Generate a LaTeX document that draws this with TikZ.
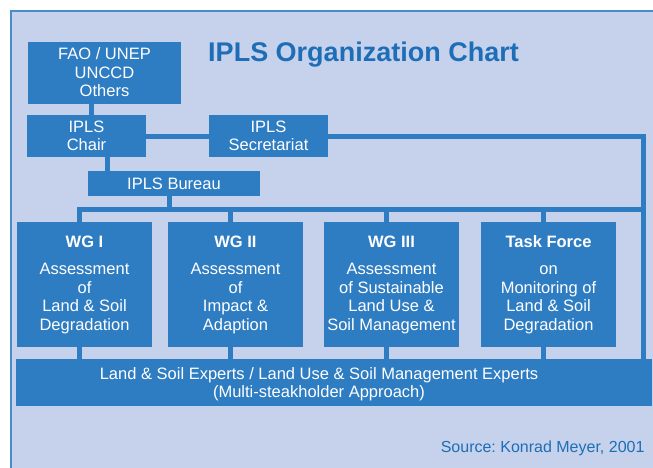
\documentclass[tikz,border=0pt]{standalone}
\usepackage{fontspec}
\setmainfont{Liberation Sans}
\definecolor{chartbg}{HTML}{C6D2EC}
\definecolor{chartframe}{HTML}{4A8CCB}
\definecolor{boxblue}{HTML}{2E7CC2}
\definecolor{titleblue}{HTML}{1D6DB7}
\begin{document}
\begin{tikzpicture}[x=1pt,y=-1pt,
    orgbox/.style={fill=boxblue,text=white,align=center,inner sep=0pt,
        font=\fontsize{16.5}{18.5}\selectfont},
    link/.style={draw=boxblue,line width=5pt}]
                \useasboundingbox (0,0) rectangle (653,467);
                % Background
                \draw[chartframe,line width=1.5pt,fill=chartbg] (10.75,10.75) rectangle (670,480);

                % Title
                \node[text=titleblue,font=\fontsize{27}{30}\selectfont\bfseries] (title) at (363.5,55) {IPLS Organization Chart};

                % Upper boxes
                \node[orgbox,minimum width=153,minimum height=62] (fao) at (104.5,72.5) {FAO / UNEP\\UNCCD\\Others};
                \node[orgbox,minimum width=119,minimum height=42] (chair) at (86.5,136) {IPLS\\Chair};
                \node[orgbox,minimum width=119,minimum height=42] (sec) at (268.5,136) {IPLS\\Secretariat};
                \node[orgbox,minimum width=172,minimum height=25] (bureau) at (174,183.5) {IPLS Bureau};

                % Working groups
                \node[orgbox,minimum width=135,minimum height=125] (wg1) at (84.5,284.5)
                    {\textbf{WG I}\\[9pt]Assessment\\of\\Land \& Soil\\Degradation};
                \node[orgbox,minimum width=135,minimum height=125] (wg2) at (235.5,284.5)
                    {\textbf{WG II}\\[9pt]Assessment\\of\\Impact \&\\Adaption};
                \node[orgbox,minimum width=135,minimum height=125] (wg3) at (391.5,284.5)
                    {\textbf{WG III}\\[9pt]Assessment\\of Sustainable\\Land Use \&\\Soil Management};
                \node[orgbox,minimum width=135,minimum height=125] (tf) at (548.5,284.5)
                    {\textbf{Task Force}\\[9pt]on\\Monitoring of\\Land \& Soil\\Degradation};

                % Experts
                \node[orgbox,minimum width=636,minimum height=47] (experts) at (334,382.5) {};
                \node[orgbox,fill=none] (expertstext) at (319,384)
                    {Land \& Soil Experts / Land Use \& Soil Management Experts\\(Multi-steakholder Approach)};

                % Source
                \node[text=titleblue,anchor=east,font=\fontsize{16}{18.5}\selectfont] (source) at (648,448) {Source:\ Konrad Meyer, 2001};

                % Connections
                \coordinate (bus) at (0,209.7);
                \coordinate (rbus) at (643.5,0);
                \draw[link] ([xshift=-13.5pt]fao.south) -- ([xshift=-13.5pt]fao.south |- chair.north);
                \draw[link] (chair.east) -- (sec.west);
                \draw[link] (sec.east) -| (rbus |- experts.north);
                \draw[link] ([xshift=21pt]chair.south) -- ([xshift=21pt]chair.south |- bureau.north);
                \draw[link] ([xshift=-4.5pt]bureau.south) -- ([xshift=-4.5pt]bureau.south |- bus);
                \draw[link] ([xshift=-5.5pt]wg1.north) |- (rbus |- bus);

                \foreach \n in {wg1,wg2,wg3,tf} {
                    \draw[link] ([xshift=-5pt]\n.north) -- ([xshift=-5pt]\n.north |- bus);
                    \draw[link] ([xshift=-5pt]\n.south) -- ([xshift=-5pt]\n.south |- experts.north);
                }
\end{tikzpicture}
\end{document}
